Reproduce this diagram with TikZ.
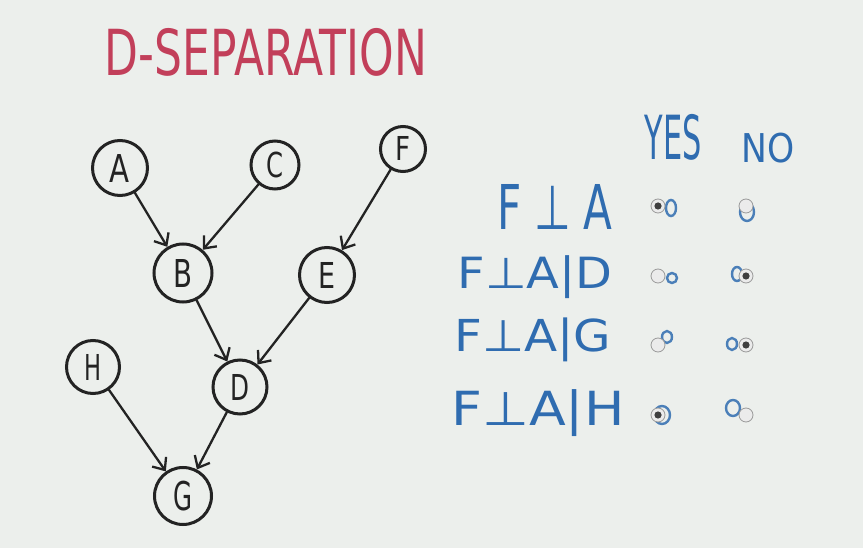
\documentclass[tikz,border=0pt]{standalone}
\usepackage{fontspec}
\setmainfont{DejaVu Sans}
\usetikzlibrary{arrows.meta}

\definecolor{board}{HTML}{ECEFEC}
\definecolor{ink}{HTML}{232323}
\definecolor{marker}{HTML}{2F6CB0}
\definecolor{redink}{HTML}{C23F5A}
\definecolor{btnedge}{HTML}{9A9A9A}
\definecolor{btnfill}{HTML}{EBEBEB}
\definecolor{btndot}{HTML}{3F3F3F}

% text squeezed into a box of given width and height
\newcommand{\fitto}[3]{\resizebox*{#1}{#2}{#3}}

\begin{document}
\begin{tikzpicture}[x=1pt,y=-1pt,
  var/.style={circle,draw=ink,line width=3pt,inner sep=0pt,minimum size=#1,text=ink},
  edge/.style={draw=ink,line width=2.3pt,line cap=round,
    -{Straight Barb[length=10pt,width=17pt,line width=2.3pt]}},
  handtext/.style={text=marker,inner sep=0pt},
  scrawl/.style={draw=marker,line width=2.4pt,opacity=0.85},
  radio/.style={circle,draw=btnedge,fill=btnfill,line width=0.8pt,minimum size=14pt,inner sep=0pt},
  chosen/.style={radio,path picture={\fill[btndot] (path picture bounding box.center) circle (3.6pt);}}
]
% board
\fill[board] (0,0) rectangle (863,548);
\useasboundingbox (0,0) rectangle (863,548);

% title
\node[text=redink,inner sep=0pt] (title) at (266,52) {\fitto{322pt}{48pt}{D-SEPARATION}};

% network
\node[var=55pt] (A) at (120,168) {\fitto{20pt}{28pt}{A}};
\node[var=48pt] (C) at (275,165) {\fitto{17pt}{26pt}{C}};
\node[var=45pt] (F) at (403,149) {\fitto{15pt}{24pt}{F}};
\node[var=58pt] (B) at (183,273) {\fitto{19pt}{28pt}{B}};
\node[var=55pt] (E) at (327,275) {\fitto{17pt}{26pt}{E}};
\node[var=53pt] (H) at (93,367)  {\fitto{17pt}{26pt}{H}};
\node[var=54pt] (D) at (240,387) {\fitto{19pt}{26pt}{D}};
\node[var=57pt] (G) at (183,496) {\fitto{19pt}{30pt}{G}};

\draw[edge] (A) -- (B);
\draw[edge] (C) -- (B);
\draw[edge] (F) -- (E);
\draw[edge] (B) -- (D);
\draw[edge] (E) -- (D);
\draw[edge] (H) -- (G);
\draw[edge] (D) -- (G);

% answer table
\node[handtext] (yes) at (673,137) {\fitto{57pt}{46pt}{YES}};
\node[handtext] (no)  at (768,148) {\fitto{53pt}{30pt}{NO}};

\node[handtext] (q1) at (555,207) {\fitto{115pt}{45pt}{F\hspace{0.3em}⊥\hspace{0.3em}A}};
\node[handtext] (q2) at (535,277) {\fitto{155pt}{43pt}{F⊥A|D}};
\node[handtext] (q3) at (533,340) {\fitto{157pt}{44pt}{F⊥A|G}};
\node[handtext] (q4) at (538,413) {\fitto{173pt}{47pt}{F⊥A|H}};

% pen marks under the buttons
\draw[scrawl] (671,208) ellipse (5pt and 8pt);
\draw[scrawl] (747,212) ellipse (7pt and 9pt);
\draw[scrawl] (672,278) ellipse (5pt and 5pt);
\draw[scrawl] (737,274) ellipse (5pt and 7pt);
\draw[scrawl] (667,337) ellipse (5pt and 6pt);
\draw[scrawl] (732,344) ellipse (5pt and 6pt);
\draw[scrawl] (662,415) ellipse (8pt and 9pt);
\draw[scrawl] (733,408) ellipse (7pt and 8pt);

% radio buttons
\node[chosen] (y1) at (658,206) {};
\node[radio]  (n1) at (746,206) {};
\node[radio]  (y2) at (658,276) {};
\node[chosen] (n2) at (746,276) {};
\node[radio]  (y3) at (658,345) {};
\node[chosen] (n3) at (746,345) {};
\node[chosen] (y4) at (658,415) {};
\node[radio]  (n4) at (746,415) {};
\end{tikzpicture}
\end{document}
